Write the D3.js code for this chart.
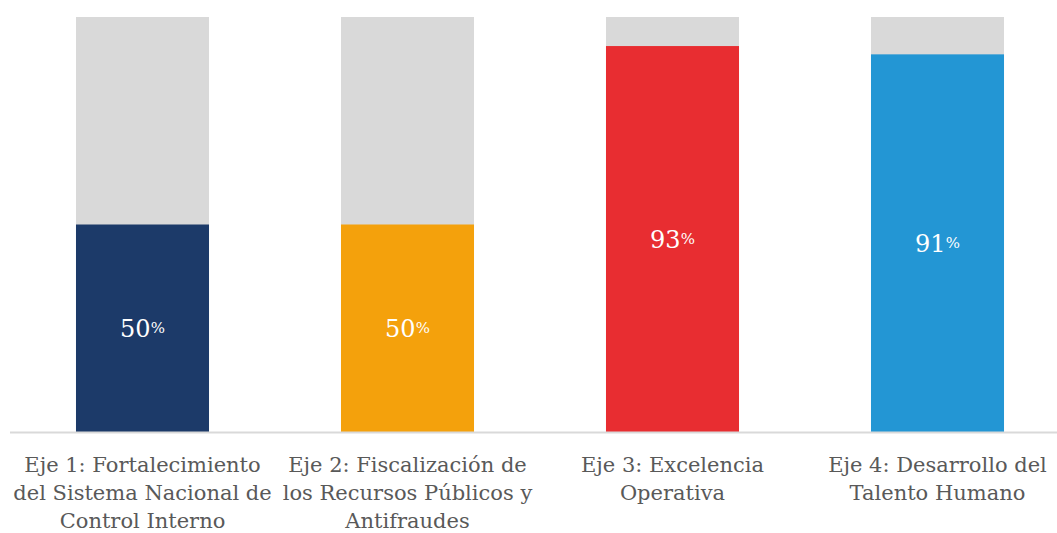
<!DOCTYPE html>
<html><head><meta charset="utf-8">
<script src="https://cdn.jsdelivr.net/npm/d3@7"></script>
<style>body{margin:0;background:#fff}svg{display:block}text{font-family:"DejaVu Serif",serif}</style>
</head><body>
<svg id="c" width="1057" height="533"></svg>
<script>
const categories = [
  ["Eje 1: Fortalecimiento","del Sistema Nacional de","Control Interno"],
  ["Eje 2: Fiscalización de","los Recursos Públicos y","Antifraudes"],
  ["Eje 3: Excelencia","Operativa"],
  ["Eje 4: Desarrollo del","Talento Humano"]
];
const keys = ["Eje 1","Eje 2","Eje 3","Eje 4"];
const values = [50, 50, 93, 91];
const total = [100, 100, 100, 100];
const colors = ["#1c3a69", "#f4a10c", "#e82d31", "#2396d4"];

const svg = d3.select("#c");
const x = d3.scaleBand().domain(keys).range([10, 1070]).paddingInner(0.498).paddingOuter(0.249);
const y = d3.scaleLinear().domain([0, 100]).range([432, 17]);

svg.selectAll("rect.bg").data(keys).join("rect").attr("class","bg")
  .attr("x", d => x(d)).attr("width", x.bandwidth())
  .attr("y", (d,i) => y(total[i])).attr("height", (d,i) => y(0) - y(total[i]))
  .attr("fill", "#d9d9d9");

svg.selectAll("rect.val").data(keys).join("rect").attr("class","val")
  .attr("x", d => x(d)).attr("width", x.bandwidth())
  .attr("y", (d,i) => y(values[i])).attr("height", (d,i) => y(0) - y(values[i]))
  .attr("fill", (d,i) => colors[i]);

const lbl = svg.selectAll("text.v").data(keys).join("text").attr("class","v")
  .attr("x", d => x(d) + x.bandwidth()/2)
  .attr("y", (d,i) => (y(values[i]) + y(0))/2 + 9)
  .attr("text-anchor", "middle").attr("fill", "#fff")
  .attr("font-size", 24);
lbl.append("tspan").text((d,i) => values[i]);
lbl.append("tspan").attr("font-size", 15).attr("dy", -4).text("%");

svg.append("line").attr("x1", 10).attr("x2", 1057).attr("y1", 432.5).attr("y2", 432.5)
  .attr("stroke", "#d9d9d9").attr("stroke-width", 2);

const cat = svg.selectAll("text.c").data(keys).join("text").attr("class","c")
  .attr("text-anchor", "middle").attr("fill", "#595959")
  .attr("font-size", 21);
cat.each(function(d,i){
  const t = d3.select(this);
  categories[i].forEach((line, j) => {
    t.append("tspan").attr("x", x(d) + x.bandwidth()/2).attr("y", 472 + j*28).text(line);
  });
});
</script>
</body></html>
